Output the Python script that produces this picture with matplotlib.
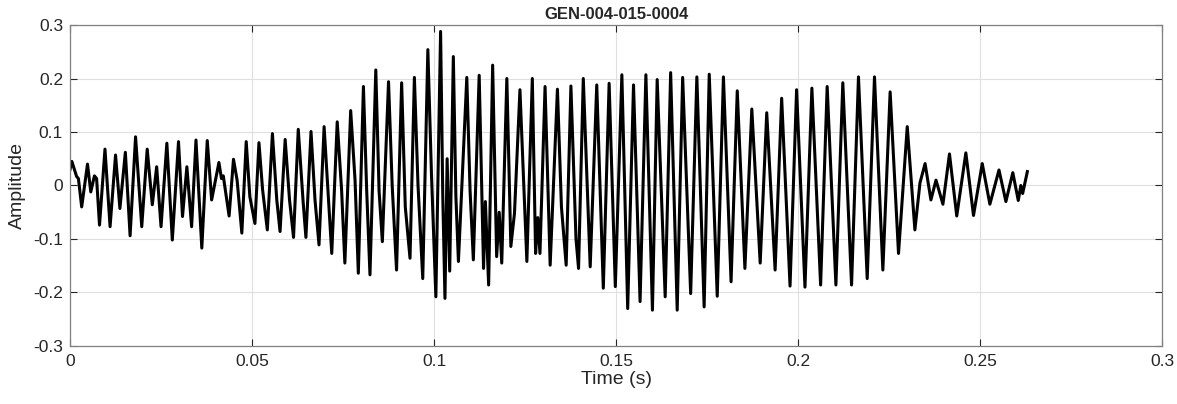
import matplotlib.pyplot as plt
import numpy as np
from matplotlib.ticker import FormatStrFormatter

plt.rcParams['font.family'] = ['Liberation Sans', 'DejaVu Sans']

# turning points of the trace (time s, amplitude)
t_start = [0.0000, 0.0005, 0.0018, 0.0023, 0.0032, 0.0048, 0.0057, 0.0067, 0.0073, 0.0081,
           0.0096, 0.0110, 0.0125, 0.0137, 0.0152, 0.0165, 0.0180, 0.0197, 0.0212, 0.0226,
           0.0238, 0.0250, 0.0266, 0.0281, 0.0298, 0.0309, 0.0321, 0.0334, 0.0346, 0.0362,
           0.0377, 0.0389, 0.0409, 0.0416, 0.0421, 0.0437, 0.0449, 0.0459, 0.0472]
a_start = [0.030, 0.045, 0.017, 0.013, -0.040, 0.040, -0.012, 0.018, 0.013, -0.074,
           0.068, -0.077, 0.057, -0.043, 0.062, -0.094, 0.091, -0.077, 0.068, -0.036,
           0.035, -0.077, 0.079, -0.102, 0.082, -0.058, 0.035, -0.077, 0.085, -0.117,
           0.084, -0.027, 0.043, 0.013, 0.018, -0.057, 0.049, 0.010, -0.089]

t_rise = [0.0484, 0.0494, 0.0508, 0.0519, 0.0529, 0.0542, 0.0556, 0.0568, 0.0577, 0.0591,
          0.0603, 0.0614, 0.0627, 0.0640, 0.0648, 0.0662, 0.0673, 0.0684, 0.0698, 0.0710,
          0.0719, 0.0734, 0.0746, 0.0755, 0.0771, 0.0783, 0.0792, 0.0806, 0.0815, 0.0824,
          0.0840, 0.0849, 0.0858, 0.0875, 0.0885, 0.0897, 0.0911, 0.0921, 0.0934, 0.0946,
          0.0956, 0.0969, 0.0983, 0.0993, 0.1005, 0.1012, 0.1018, 0.1024, 0.1030, 0.1036,
          0.1043, 0.1053, 0.1060, 0.1067, 0.1090, 0.1099, 0.1108, 0.1124, 0.1136, 0.1141,
          0.1150]
a_rise = [0.082, -0.021, -0.071, 0.080, -0.008, -0.083, 0.097, -0.027, -0.086, 0.086,
          -0.027, -0.097, 0.105, -0.027, -0.097, 0.101, -0.027, -0.111, 0.110, -0.024,
          -0.127, 0.119, -0.008, -0.145, 0.140, 0.010, -0.164, 0.185, -0.010, -0.167,
          0.216, -0.010, -0.105, 0.194, 0.000, -0.158, 0.192, -0.040, -0.136, 0.202,
          0.000, -0.174, 0.254, 0.020, -0.208, 0.060, 0.288, -0.020, -0.211, 0.050,
          -0.160, 0.241, -0.020, -0.142, 0.202, -0.010, -0.139, 0.206, -0.155, -0.030,
          -0.186]

t_mid = [0.1161, 0.1172, 0.1179, 0.1186, 0.1200, 0.1211, 0.1221, 0.1236, 0.1255, 0.1270,
         0.1279, 0.1285, 0.1291, 0.1305, 0.1319, 0.1339, 0.1350, 0.1363, 0.1376, 0.1390,
         0.1397, 0.1410, 0.1429, 0.1447, 0.1465, 0.1481, 0.1498, 0.1516, 0.1532, 0.1548,
         0.1566, 0.1582, 0.1600, 0.1613, 0.1635, 0.1650, 0.1668, 0.1683, 0.1705, 0.1722,
         0.1742, 0.1756, 0.1778, 0.1795, 0.1816, 0.1833, 0.1854, 0.1873, 0.1896, 0.1914,
         0.1937, 0.1955, 0.1978, 0.1996, 0.2019, 0.2038, 0.2062]
a_mid = [0.225, -0.133, -0.050, -0.145, 0.200, -0.114, -0.052, 0.179, -0.142, 0.200,
         -0.127, -0.060, -0.127, 0.185, -0.149, 0.180, -0.040, -0.149, 0.186, -0.100,
         -0.155, 0.200, -0.152, 0.188, -0.192, 0.191, -0.189, 0.207, -0.230, 0.188,
         -0.217, 0.207, -0.233, 0.198, -0.208, 0.211, -0.233, 0.202, -0.202, 0.203,
         -0.227, 0.208, -0.207, 0.203, -0.180, 0.177, -0.155, 0.143, -0.145, 0.136,
         -0.158, 0.163, -0.188, 0.179, -0.190, 0.182, -0.186]

t_end = [0.2080, 0.2104, 0.2123, 0.2147, 0.2166, 0.2190, 0.2210, 0.2233, 0.2253, 0.2276,
         0.2300, 0.2321, 0.2335, 0.2349, 0.2365, 0.2379, 0.2398, 0.2416, 0.2436, 0.2461,
         0.2482, 0.2506, 0.2527, 0.2552, 0.2571, 0.2590, 0.2605, 0.2612, 0.2617, 0.2630]
a_end = [0.185, -0.186, 0.192, -0.186, 0.203, -0.174, 0.203, -0.158, 0.175, -0.127,
         0.110, -0.083, 0.005, 0.041, -0.027, 0.010, -0.035, 0.059, -0.057, 0.061,
         -0.056, 0.041, -0.035, 0.029, -0.030, 0.024, -0.028, 0.000, -0.015, 0.026]

t = np.concatenate([t_start, t_rise, t_mid, t_end])
a = np.concatenate([a_start, a_rise, a_mid, a_end])

fig = plt.figure(figsize=(11.77, 4.04), dpi=100)
ax = fig.add_axes([0.0595, 0.1436, 0.9278, 0.7945])

ax.plot(t, a, color='black', lw=2.2, solid_joinstyle='round')

ax.set_xlim(0, 0.3)
ax.set_ylim(-0.3, 0.3)
ax.set_xticks(np.arange(0, 0.301, 0.05))
ax.set_yticks(np.arange(-0.3, 0.301, 0.1))
ax.xaxis.set_major_formatter(FormatStrFormatter('%g'))
ax.yaxis.set_major_formatter(plt.FuncFormatter(lambda v, p: '%g' % round(v, 2)))
ax.grid(True, color='#dfdfdf', lw=0.8)
ax.set_axisbelow(True)
ax.tick_params(direction='in', length=5, colors='#262626', labelsize=12.5,
               top=True, right=True, width=0.8)
ax.tick_params(axis='x', pad=6)
ax.tick_params(axis='y', pad=5)
for s in ax.spines.values():
    s.set_color('#808080')
    s.set_linewidth(0.9)

ax.set_xlabel('Time (s)', fontsize=14, color='#262626', labelpad=1)
ax.set_ylabel('Amplitude', fontsize=14, color='#262626', labelpad=5)
ax.set_title('GEN-004-015-0004', fontsize=12, fontweight='bold', color='#262626', pad=4)

fig.savefig('out.png', dpi=100)
